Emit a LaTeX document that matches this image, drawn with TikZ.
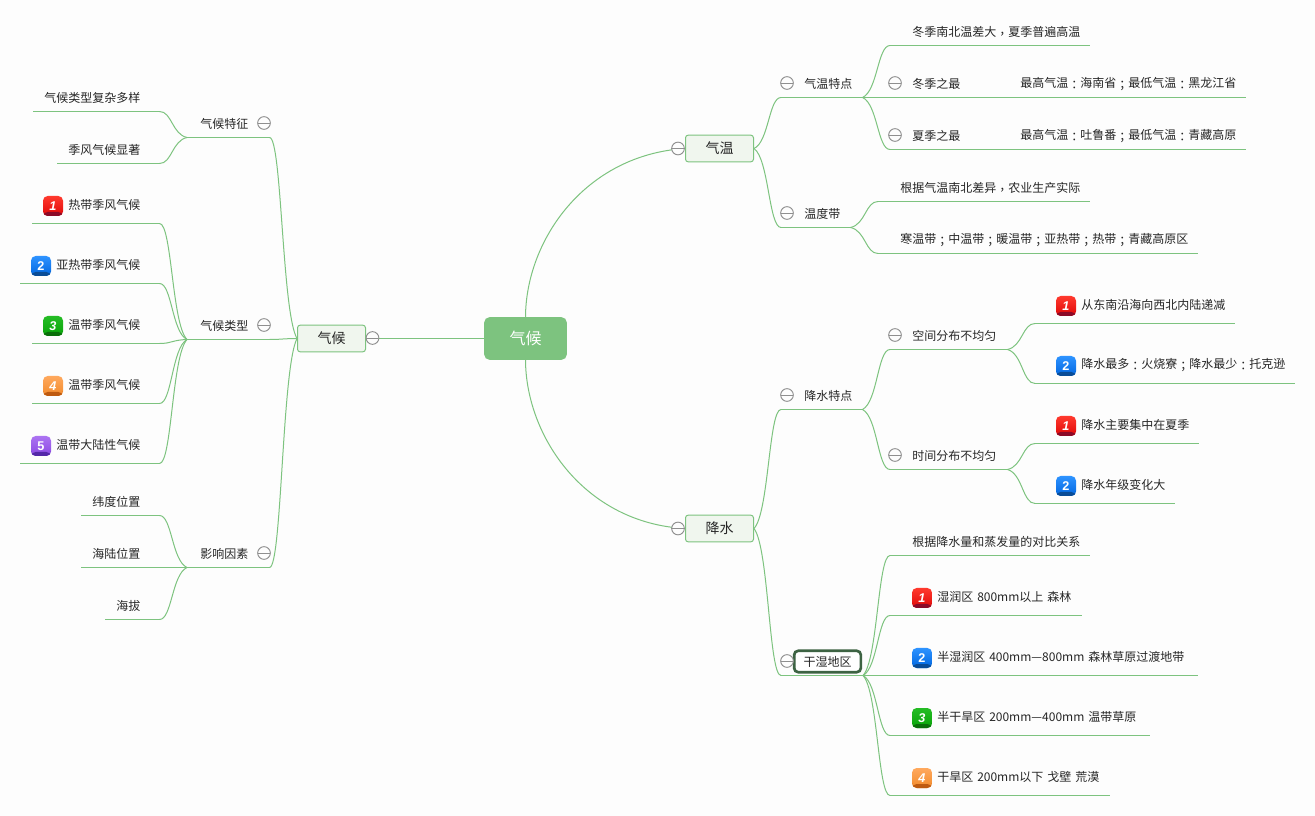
\documentclass[tikz,border=0pt]{standalone}
\usepackage{fontspec}
\setmainfont{Noto Sans CJK SC}
\newfontfamily\puntos{Noto Sans CJK TC}
\newfontfamily\cifra{Liberation Sans}
\usetikzlibrary{calc,positioning}
\definecolor{fondo}{HTML}{FDFDFD}
\definecolor{verde}{HTML}{7DC37F}
\definecolor{verdeclaro}{HTML}{F0F6EE}
\definecolor{verdeosc}{HTML}{3D6343}
\definecolor{gris}{HTML}{8F8F8F}
\definecolor{rojoA}{HTML}{FF3A2E}\definecolor{rojoB}{HTML}{E00808}\definecolor{rojoC}{HTML}{8A0A28}
\definecolor{azulA}{HTML}{2E93FF}\definecolor{azulB}{HTML}{0066E0}\definecolor{azulC}{HTML}{0A4C96}
\definecolor{verA}{HTML}{25BC25}\definecolor{verB}{HTML}{08A408}\definecolor{verC}{HTML}{0A6E0A}
\definecolor{narA}{HTML}{FFA95E}\definecolor{narB}{HTML}{F28A2A}\definecolor{narC}{HTML}{BE5A10}
\definecolor{morA}{HTML}{AC74F2}\definecolor{morB}{HTML}{8A48E2}\definecolor{morC}{HTML}{5428A8}
\tikzset{
  rama/.style     = {verde, line width=0.75pt},
  tema/.style     = {inner sep=0pt, anchor=south west, align=left, font=\fontsize{9}{11}\selectfont, text=black!85},
  nota/.style     = {inner sep=0pt, anchor=west, font=\fontsize{9}{11}\selectfont, text=black!85},
  caja/.style     = {draw=verde, fill=verdeclaro, line width=0.75pt, rounded corners=2pt, minimum width=51pt, minimum height=20pt, inner sep=0pt, font=\fontsize{10.5}{12}\selectfont, text=black!85},
  raiz/.style     = {fill=verde, rounded corners=4pt, minimum width=62pt, minimum height=32pt, inner sep=0pt, text=white, font=\fontsize{12}{14}\selectfont},
  elegido/.style  = {draw=verdeosc, fill=white, line width=2pt, rounded corners=3pt, minimum width=50pt, minimum height=16pt, inner sep=0pt, font=\fontsize{9}{11}\selectfont, text=black!85},
  plegar/.style   = {circle, draw=gris, fill=fondo, line width=0.7pt, minimum size=9.5pt, inner sep=0pt,
                     path picture={\draw[gris, line width=0.7pt] (path picture bounding box.west) -- (path picture bounding box.east);}},
  insignia/.style = {rounded corners=3.5pt, minimum size=15pt, inner sep=0pt, top color=#1A, bottom color=#1B, text=white, font=\cifra\fontsize{9.5}{11}\selectfont\bfseries,
                     path picture={\fill[#1C] ([yshift=3pt]path picture bounding box.south west) rectangle (path picture bounding box.south east);}}
}
\newcommand{\rama}[2]{\draw[rama] let \p1=(#1), \p2=(#2) in (\p1) .. controls ({\x1*.45+\x2*.55},{\y1*.87+\y2*.13}) and ({\x1*.45+\x2*.55},\y2) .. (\p2);}
\newcommand{\pt}[1]{{\puntos\raisebox{-1.5pt}{#1}}}
\begin{document}
\begin{tikzpicture}[x=0.75pt, y=-0.75pt]
  \fill[fondo] (0,0) rectangle (1315,816);
  \useasboundingbox (0,0) rectangle (1315,816);
  \node[raiz] (centro) at (525.5,338.5) {气候};
  \node[caja] (clima) at (331.5,338.5) {气候};
  \node[caja] (temp) at (719.5,148.5) {气温};
  \node[caja] (lluvia) at (719.5,528.5) {降水};
  \node[elegido] (seco) at (827.5,661.5) {干湿地区};
  \coordinate (secoa) at (781,675.5);
  \coordinate (secob) at (863,675.5);
  \draw[rama] (secoa) -- (secob);
  \foreach \nom/\xa/\xb/\yy/\tx/\alto/\txt in {
    climaf/187/270/137/200/19.5/气候特征, climat/187/270/339/200/19.5/气候类型, factor/187/270/567/200/19.5/影响因素,
    diverso/33/160/111/44/19.5/气候类型复杂多样, monzon/57/160/163/68/19.5/季风气候显著,
    tipoa/32/160/223/68/27/热带季风气候, tipob/20/160/283/56/27/亚热带季风气候, tipoc/32/160/343/68/27/温带季风气候,
    tipod/32/160/403/68/27/温带季风气候, tipoe/20/160/463/56/27/温带大陆性气候,
    latitud/81/160/515/92/19.5/纬度位置, mar/81/160/567/92/19.5/海陆位置, altura/105/160/619/116/19.5/海拔,
    tempf/781/863/97/804/19.5/气温特点, tempz/781/851/227/804/19.5/温度带,
    difer/890/1090/45/912/19.5/冬季南北温差大\pt{，}夏季普遍高温, invierno/890/1246/97/912/19.5/冬季之最, verano/890/1246/149/912/19.5/夏季之最,
    segun/878/1090/201/900/19.5/根据气温南北差异\pt{，}农业生产实际, zonas/878/1198/253/900/19.5/寒温带\pt{；}中温带\pt{；}暖温带\pt{；}亚热带\pt{；}热带\pt{；}青藏高原区,
    lluviaf/781/863/409/804/19.5/降水特点, espacio/890/1008/349/912/19.5/空间分布不均匀, tiempo/890/1008/469/912/19.5/时间分布不均匀,
    costa/1035/1235/323/1081/27/从东南沿海向西北内陆递减, maxima/1035/1295/383/1081/27/降水最多\pt{：}火烧寮\pt{；}降水最少\pt{：}托克逊,
    verlluvia/1035/1199/443/1081/27/降水主要集中在夏季, anual/1035/1175/503/1081/27/降水年级变化大,
    relacion/890/1090/555/912/19.5/根据降水量和蒸发量的对比关系, humedo/890/1082/615/937/27/湿润区 800mm以上 森林,
    semihum/890/1198/675/937/27/半湿润区 400mm—800mm 森林草原过渡地带, semiar/890/1150/735/937/27/半干旱区 200mm—400mm 温带草原,
    arido/890/1110/795/937/27/干旱区 200mm以下 戈壁 荒漠}{
    \pgfmathsetmacro\anch{(\xb-\xa-1)*.75}
    \pgfmathsetmacro\sang{(\tx-\xa)*.75}
    \node[tema, text width=\anch pt, minimum height=\alto pt] (\nom) at (\xa,\yy+.5) {\hspace*{\sang pt}\txt};
    \draw[rama] (\nom.south west) -- (\nom.south east);
  }
  \node[nota] (invnota) at (1020,84.5) {最高气温\pt{：}海南省\pt{；}最低气温\pt{：}黑龙江省};
  \node[nota] (vernota) at (1020,136.5) {最高气温\pt{：}吐鲁番\pt{；}最低气温\pt{：}青藏高原};
  \draw[rama] (centro.west) -- (clima.east);
  \draw[rama] (centro.north) .. controls (526,240) and (585,155) .. (temp.west);
  \draw[rama] (centro.south) .. controls (526,437) and (585,523) .. (lluvia.west);
  \foreach \hijo in {climaf,climat,factor}{\rama{clima.west}{\hijo.south east}}
  \foreach \hijo in {diverso,monzon}{\rama{climaf.south west}{\hijo.south east}}
  \foreach \hijo in {tipoa,tipob,tipoc,tipod,tipoe}{\rama{climat.south west}{\hijo.south east}}
  \foreach \hijo in {latitud,mar,altura}{\rama{factor.south west}{\hijo.south east}}
  \foreach \hijo in {tempf,tempz}{\rama{temp.east}{\hijo.south west}}
  \foreach \hijo in {difer,invierno,verano}{\rama{tempf.south east}{\hijo.south west}}
  \foreach \hijo in {segun,zonas}{\rama{tempz.south east}{\hijo.south west}}
  \rama{lluvia.east}{lluviaf.south west}
  \rama{lluvia.east}{secoa}
  \foreach \hijo in {espacio,tiempo}{\rama{lluviaf.south east}{\hijo.south west}}
  \foreach \hijo in {costa,maxima}{\rama{espacio.south east}{\hijo.south west}}
  \foreach \hijo in {verlluvia,anual}{\rama{tiempo.south east}{\hijo.south west}}
  \foreach \hijo in {relacion,humedo,semihum,semiar,arido}{\rama{secob}{\hijo.south west}}
  \foreach \nom/\xx/\yy in {plega/372.5/338, plegb/264/123, plegc/264/325, plegd/264/553, plege/678/148.5, plegf/678/528.5,
    plegg/787/83, plegh/787/213, plegi/787/395, plegj/787/661, plegk/895/83, plegl/895/135, plegm/895/335, plegn/895/455}{
    \node[plegar] (\nom) at (\xx,\yy) {};
  }
  \foreach \nom/\xx/\yy/\col/\num in {
    ins1/53/206/rojo/\itshape 1, ins2/41/266/azul/2, ins3/53/326/ver/\itshape 3, ins4/53/386/nar/\itshape 4, ins5/41/446/mor/5,
    ins6/1066/306/rojo/\itshape 1, ins7/1066/366/azul/2, ins8/1066/426/rojo/\itshape 1, ins9/1066/486/azul/2,
    ins10/922/598/rojo/\itshape 1, ins11/922/658/azul/2, ins12/922/718/ver/\itshape 3, ins13/922/778/nar/\itshape 4}{
    \node[insignia=\col] (\nom) at (\xx,\yy) {\num};
  }
\end{tikzpicture}
\end{document}
